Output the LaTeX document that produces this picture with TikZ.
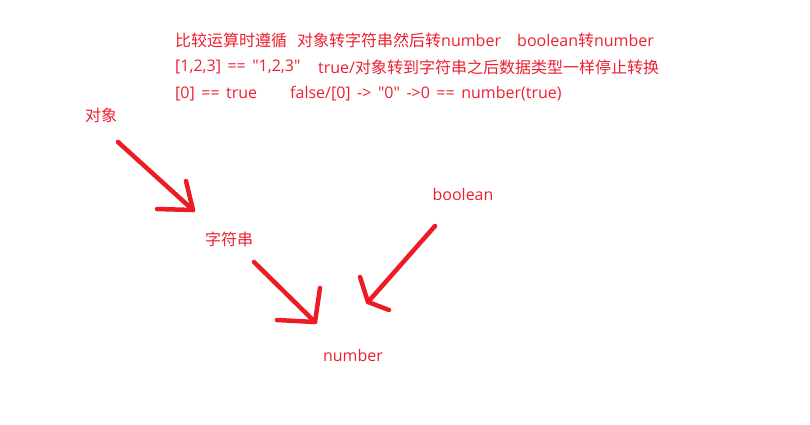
\documentclass[tikz,border=0pt]{standalone}
\usepackage{fontspec}
\setmainfont{Open Sans}[Ligatures=TeXOff]
\newfontfamily\cjk{Noto Sans CJK SC}
\usetikzlibrary{positioning}
\definecolor{notered}{RGB}{236,32,48}
\definecolor{penred}{RGB}{237,28,36}
\newcommand{\notefont}{\fontsize{16}{19}\selectfont\spaceskip=6.5pt\relax}
\tikzset{
  note/.style={text=notered, font=\notefont, inner sep=0pt, anchor=west},
  word/.style={note, anchor=center},
  pen/.style={draw=penred, line width=4.5pt, line cap=round, line join=round}
}

\begin{document}
\begin{tikzpicture}[x=1pt,y=-1pt]
        \useasboundingbox (0,0) rectangle (810,424);
        % rules at the top
        \node[note] (rule1a) at (175,40) {\cjk 比较运算时遵循};
        \node[note] (rule1b) at (297,40) {{\cjk 对象转字符串然后转}number};
        \node[note] (rule1c) at (517,40) {boolean{\cjk 转}number};
        \node[note] (rule2a) at (175,67) {[1,2,3] == "1,2,3"};
        \node[note] (rule2b) at (318,67) {true/{\cjk 对象转到字符串之后数据类型一样停止转换}};
        \node[note] (rule3a) at (175,94) {[0] == true};
        \node[note] (rule3b) at (290,94) {false/[0] -> "0" ->0 == number(true)};
        % the four types
        \node[word] (obj)  at (101,115) {\cjk 对象};
        \node[word] (str)  at (229,239) {\cjk 字符串};
        \node[word] (bool) at (463,194) {boolean};
        \node[word] (num)  at (353,355) {number};
        \coordinate (obj-out)  at (118,142);
        \coordinate (str-in)   at (193,210);
        \coordinate (str-out)  at (254,262);
        \coordinate (num-in)   at (315,322);
        \coordinate (bool-out) at (435,226);
        \coordinate (bool-in)  at (368,302);
        \draw[pen] (obj-out) -- (str-in);
        \draw[pen] ([shift={(-7,-29)}]str-in) -- (str-in) -- ([shift={(-36,-1)}]str-in);
        \draw[pen] (str-out) -- (num-in);
        \draw[pen] ([shift={(5,-34)}]num-in) -- (num-in) -- ([shift={(-38,-2)}]num-in);
        \draw[pen] (bool-out) -- (bool-in);
        \draw[pen] ([shift={(-8,-25)}]bool-in) -- (bool-in) -- ([shift={(21,8)}]bool-in);
    \end{tikzpicture}
\end{document}
